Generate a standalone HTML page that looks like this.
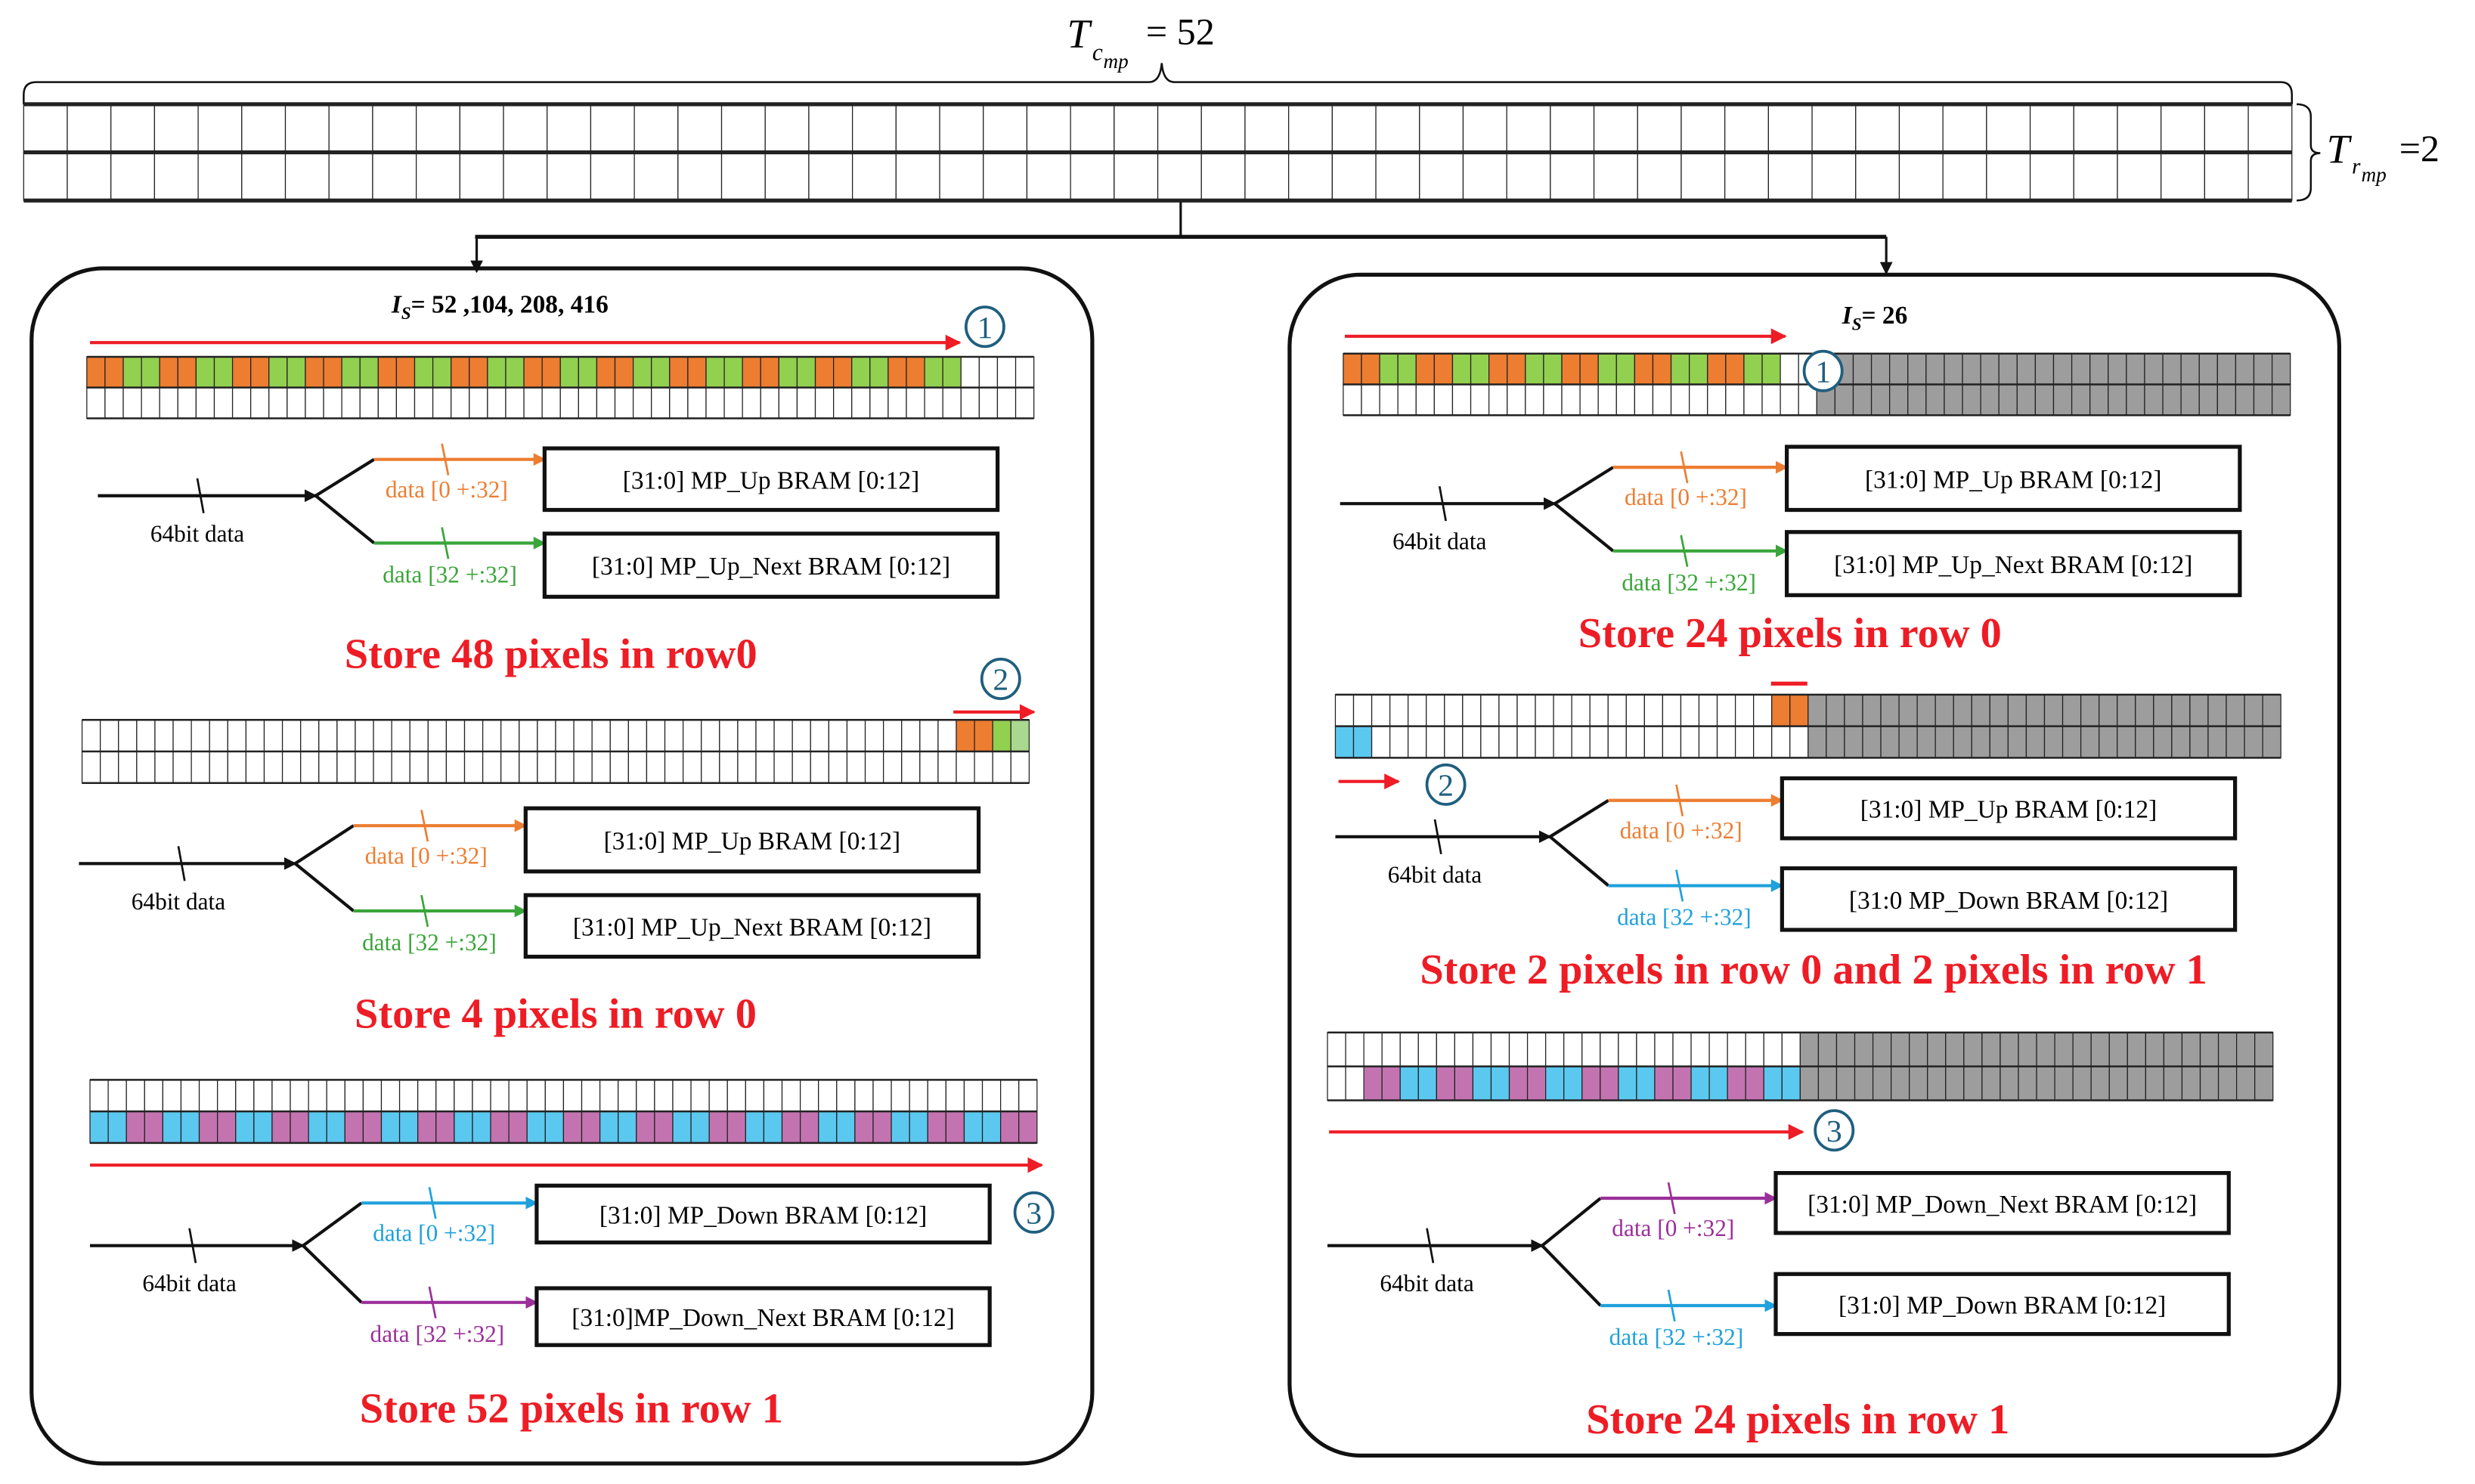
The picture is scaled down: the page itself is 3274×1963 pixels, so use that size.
<!DOCTYPE html>
<html><head><meta charset="utf-8"><style>
html,body{margin:0;padding:0;background:#fff;}
svg{display:block;}
text{font-family:"Liberation Serif",serif;}
</style></head><body>
<svg id="s" xmlns="http://www.w3.org/2000/svg" width="3274" height="1963" viewBox="0 0 1568 940" preserveAspectRatio="none">
<defs>
<marker id="ak" markerWidth="8" markerHeight="8" refX="7" refY="4" orient="auto" markerUnits="userSpaceOnUse"><path d="M0,0 L8,4 L0,8 z" fill="#111"/></marker>
<marker id="ar" markerWidth="10" markerHeight="10" refX="9" refY="5" orient="auto" markerUnits="userSpaceOnUse"><path d="M0,0 L10,5 L0,10 z" fill="#ee1c25"/></marker>
<marker id="ao" markerWidth="8" markerHeight="8" refX="7" refY="4" orient="auto" markerUnits="userSpaceOnUse"><path d="M0,0 L8,4 L0,8 z" fill="#ed7d31"/></marker>
<marker id="ag" markerWidth="8" markerHeight="8" refX="7" refY="4" orient="auto" markerUnits="userSpaceOnUse"><path d="M0,0 L8,4 L0,8 z" fill="#3aa53a"/></marker>
<marker id="ac" markerWidth="8" markerHeight="8" refX="7" refY="4" orient="auto" markerUnits="userSpaceOnUse"><path d="M0,0 L8,4 L0,8 z" fill="#1ea1dc"/></marker>
<marker id="ap" markerWidth="8" markerHeight="8" refX="7" refY="4" orient="auto" markerUnits="userSpaceOnUse"><path d="M0,0 L8,4 L0,8 z" fill="#9b2f9a"/></marker>
</defs>
<text x="676" y="30" font-size="26" font-style="italic">T</text>
<text x="692" y="38" font-size="15" font-style="italic">c</text>
<text x="699" y="43" font-size="13" font-style="italic">mp</text>
<text x="726" y="28" font-size="24">= 52</text>
<path d="M15,66 V60 Q15,52 23,52 H728 Q735,52 736,40 Q737,52 744,52 H1445 Q1452,52 1452,60 V66" fill="none" stroke="#111" stroke-width="1.2"/>
<path d="M1455,66 Q1464,66 1464,74 V92 Q1464,97 1470,97 Q1464,97 1464,102 V119 Q1464,127 1455,127" fill="none" stroke="#111" stroke-width="1.2"/>
<text x="1474" y="103" font-size="26" font-style="italic">T</text>
<text x="1490" y="110" font-size="14" font-style="italic">r</text>
<text x="1496" y="115" font-size="13" font-style="italic">mp</text>
<text x="1520" y="102" font-size="24">=2</text>
<line x1="748" y1="127" x2="748" y2="150" stroke="#111" stroke-width="1.5"/>
<line x1="301" y1="150" x2="1195" y2="150" stroke="#111" stroke-width="2.5"/>
<line x1="302" y1="150" x2="302" y2="172" stroke="#111" stroke-width="1.5" marker-end="url(#ak)"/>
<line x1="1195" y1="150" x2="1195" y2="173" stroke="#111" stroke-width="1.5" marker-end="url(#ak)"/>
<rect x="20" y="170" width="672" height="757" rx="45" fill="none" stroke="#111" stroke-width="2.5"/>
<rect x="817" y="174" width="665" height="748" rx="45" fill="none" stroke="#111" stroke-width="2.5"/>
<g id="g"></g>
</svg>
<script>
var O='#ed7d31',G='#92d050',C='#5bc8f0',P='#c374b0',Y='#9d9d9d',W='#fff',LG='#a9d88e';
var h='';
function grid(x1,x2,y1,y2,f,thick){
  var n=52,cw=(x2-x1)/n,rh=(y2-y1)/2;
  for(var r=0;r<2;r++)for(var c=0;c<n;c++){
    var col=f?f(r,c):W;
    h+='<rect x="'+(x1+c*cw).toFixed(2)+'" y="'+(y1+r*rh).toFixed(2)+'" width="'+cw.toFixed(2)+'" height="'+rh.toFixed(2)+'" fill="'+col+'" stroke="#222" stroke-width="0.6"/>';
  }
  var t=thick||1.2;
  for(var r=0;r<=2;r++)h+='<line x1="'+x1+'" x2="'+x2+'" y1="'+(y1+r*rh)+'" y2="'+(y1+r*rh)+'" stroke="#222" stroke-width="'+t+'"/>';
}
function pat(c,a,b){return (Math.floor(c/2)%2==0)?a:b;}
grid(15,1452,66,127,null,2.5);
grid(55,655,226,265,function(r,c){return (r==0&&c<48)?pat(c,O,G):W;});
grid(52,652,456,496,function(r,c){if(r==0&&(c==48||c==49))return O;if(r==0&&c==50)return G;if(r==0&&c==51)return LG;return W;});
grid(57,657,684,724,function(r,c){return r==1?pat(c,C,P):W;});
grid(851,1451,224,263,function(r,c){if(c>=26)return Y;return (r==0&&c<24)?pat(c,O,G):W;});
grid(846,1445,440,480,function(r,c){if(c>=26)return Y;if(r==0&&(c==24||c==25))return O;if(r==1&&c<2)return C;return W;});
grid(841,1440,654,697,function(r,c){if(c>=26)return Y;if(r==1&&c>=2)return pat(c-2,P,C);return W;});
function arrow(x1,y,x2){h+='<line x1="'+x1+'" y1="'+y+'" x2="'+x2+'" y2="'+y+'" stroke="#ee1c25" stroke-width="2" marker-end="url(#ar)"/>';}
function circ(x,y,n){h+='<ellipse cx="'+x+'" cy="'+y+'" rx="12" ry="12.5" fill="#fff" stroke="#1f5f7f" stroke-width="1.8"/><text x="'+x+'" y="'+(y+7)+'" font-size="20" text-anchor="middle" fill="#1f5f7f">'+n+'</text>';}
arrow(57,217,608);circ(624,207,1);
arrow(604,451,655);circ(634,430,2);
arrow(57,738,660);circ(655,768,3);
arrow(852,213,1131);circ(1155,235,1);
h+='<line x1="1122" y1="433" x2="1145" y2="433" stroke="#ee1c25" stroke-width="2.5"/>';
arrow(848,495,886);circ(916,497,2);
arrow(842,717,1142);circ(1162,716,3);
h+='<text x="248" y="198" font-size="16" font-weight="bold"><tspan font-style="italic">I</tspan><tspan font-size="11" dy="4" font-style="italic">S</tspan><tspan dy="-4">= 52 ,104, 208, 416</tspan></text>';
h+='<text x="1167" y="205" font-size="16" font-weight="bold"><tspan font-style="italic">I</tspan><tspan font-size="11" dy="4" font-style="italic">S</tspan><tspan dy="-4">= 26</tspan></text>';
function blk(x0,y0,fx,yu,yl,bx,bx2,bu,bl,cu,cl,mu,ml,lu,ll,tu,tl){
  h+='<line x1="'+x0+'" y1="'+y0+'" x2="'+fx+'" y2="'+y0+'" stroke="#111" stroke-width="2" marker-end="url(#ak)"/>';
  var tk=x0+65;h+='<line x1="'+(tk-2)+'" y1="'+(y0-11)+'" x2="'+(tk+2)+'" y2="'+(y0+11)+'" stroke="#111" stroke-width="1.3"/>';
  h+='<text x="'+(x0+63)+'" y="'+(y0+29)+'" font-size="15" text-anchor="middle">64bit data</text>';
  var bxx=fx+37;
  h+='<polyline points="'+bxx+','+yu+' '+fx+','+y0+' '+bxx+','+yl+'" fill="none" stroke="#111" stroke-width="2"/>';
  h+='<line x1="'+bxx+'" y1="'+yu+'" x2="'+bx+'" y2="'+yu+'" stroke="'+cu+'" stroke-width="2" marker-end="url('+mu+')"/>';
  h+='<line x1="'+bxx+'" y1="'+yl+'" x2="'+bx+'" y2="'+yl+'" stroke="'+cl+'" stroke-width="2" marker-end="url('+ml+')"/>';
  var tx=bxx+45;
  h+='<line x1="'+(tx-2)+'" y1="'+(yu-10)+'" x2="'+(tx+2)+'" y2="'+(yu+10)+'" stroke="'+cu+'" stroke-width="1.3"/>';
  h+='<line x1="'+(tx-2)+'" y1="'+(yl-10)+'" x2="'+(tx+2)+'" y2="'+(yl+10)+'" stroke="'+cl+'" stroke-width="1.3"/>';
  h+='<text x="'+(tx+1)+'" y="'+(yu+24)+'" font-size="15" text-anchor="middle" fill="'+cu+'">'+lu+'</text>';
  h+='<text x="'+(tx+3)+'" y="'+(yl+25)+'" font-size="15" text-anchor="middle" fill="'+cl+'">'+ll+'</text>';
  var bw=bx2-bx;
  h+='<rect x="'+bx+'" y="'+bu[0]+'" width="'+bw+'" height="'+(bu[1]-bu[0])+'" fill="#fff" stroke="#111" stroke-width="2.5"/>';
  h+='<rect x="'+bx+'" y="'+bl[0]+'" width="'+bw+'" height="'+(bl[1]-bl[0])+'" fill="#fff" stroke="#111" stroke-width="2.5"/>';
  h+='<text x="'+(bx+bw/2)+'" y="'+((bu[0]+bu[1])/2+6)+'" font-size="16" text-anchor="middle">'+tu+'</text>';
  h+='<text x="'+(bx+bw/2)+'" y="'+((bl[0]+bl[1])/2+6)+'" font-size="16" text-anchor="middle">'+tl+'</text>';
}
var OR='#ed7d31',GR='#3aa53a',CY='#1ea1dc',PU='#9b2f9a';
blk(62,314,200,291,344,345,632,[284,323],[338,378],OR,GR,'#ao','#ag','data [0 +:32]','data [32 +:32]','[31:0] MP_Up BRAM [0:12]','[31:0] MP_Up_Next BRAM [0:12]');
blk(50,547,187,523,577,333,620,[512,552],[567,606],OR,GR,'#ao','#ag','data [0 +:32]','data [32 +:32]','[31:0] MP_Up BRAM [0:12]','[31:0] MP_Up_Next BRAM [0:12]');
blk(57,789,192,762,825,340,627,[751,787],[816,852],CY,PU,'#ac','#ap','data [0 +:32]','data [32 +:32]','[31:0] MP_Down BRAM [0:12]','[31:0]MP_Down_Next BRAM [0:12]');
blk(849,319,985,296,349,1132,1419,[283,323],[337,377],OR,GR,'#ao','#ag','data [0 +:32]','data [32 +:32]','[31:0] MP_Up BRAM [0:12]','[31:0] MP_Up_Next BRAM [0:12]');
blk(846,530,982,507,561,1129,1416,[493,531],[550,589],OR,CY,'#ao','#ac','data [0 +:32]','data [32 +:32]','[31:0] MP_Up BRAM [0:12]','[31:0 MP_Down BRAM [0:12]');
blk(841,789,977,759,827,1125,1412,[743,781],[807,845],PU,CY,'#ap','#ac','data [0 +:32]','data [32 +:32]','[31:0] MP_Down_Next BRAM [0:12]','[31:0] MP_Down BRAM [0:12]');
function title(x,y,t){h+='<text x="'+x+'" y="'+y+'" font-size="27" font-weight="bold" fill="#ee1c25" text-anchor="middle">'+t+'</text>';}
title(349,423,'Store 48 pixels in row0');
title(352,651,'Store 4 pixels in row 0');
title(362,901,'Store 52 pixels in row 1');
title(1134,410,'Store 24 pixels in row 0');
title(1149,623,'Store 2 pixels in row 0 and 2 pixels in row 1');
title(1139,908,'Store 24 pixels in row 1');
document.getElementById('g').innerHTML=h;
</script>
</body></html>
